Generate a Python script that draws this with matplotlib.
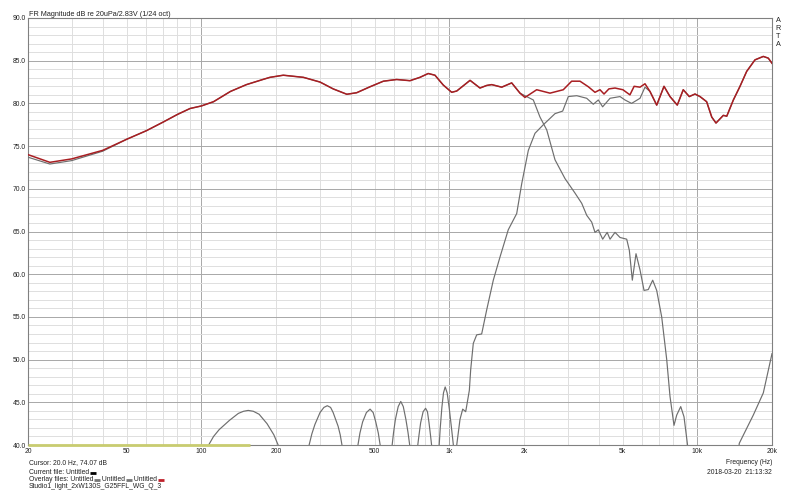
import numpy as np
import matplotlib
matplotlib.use('Agg')
import matplotlib.pyplot as plt
from matplotlib.lines import Line2D

plt.rcParams['font.family'] = ['Liberation Sans', 'DejaVu Sans']

# ---------------- data ----------------
sum_freq = [20, 24.5, 30, 40, 50, 60, 70, 80, 90, 100, 112, 131, 152, 177, 189, 214,
            258, 301, 340, 386, 423, 479, 542, 613, 694, 761, 822, 875, 945, 1022,
            1071, 1212, 1329, 1414, 1482, 1626, 1784, 1927, 2018, 2250, 2546, 2880,
            3113, 3364, 3634, 3866, 4050, 4204, 4400, 4656, 5010, 5348, 5560, 5873,
            6150, 6442, 6857, 7338, 7757, 8300, 8772, 9280, 9785, 10250, 10900,
            11430, 11890, 12730, 13140, 13970, 14860, 15810, 17080, 18450, 19320, 20000]
sum_db = [74.0, 73.1, 73.5, 74.5, 75.8, 76.8, 77.8, 78.7, 79.4, 79.7, 80.2, 81.4, 82.2, 82.8, 83.05, 83.3,
          83.05, 82.5, 81.7, 81.07, 81.25, 81.95, 82.6, 82.8, 82.66, 83.05, 83.5, 83.3, 82.15, 81.3,
          81.45, 82.7, 81.8, 82.1, 82.2, 81.9, 82.4, 81.2, 80.7, 81.6, 81.2, 81.6,
          82.6, 82.6, 81.95, 81.3, 81.6, 81.1, 81.7, 81.8, 81.6, 81.0, 82.0, 81.9,
          82.3, 81.4, 79.8, 82.0, 80.8, 79.8, 81.6, 80.8, 81.1, 80.8, 80.2,
          78.4, 77.7, 78.6, 78.5, 80.4, 82.0, 83.75, 85.1, 85.5, 85.3, 84.7]

woofer_low_freq = [20, 24.5, 30, 40]
woofer_low_db = [73.7, 72.9, 73.3, 74.4]

woofer_hf_freq = [2018, 2181, 2320, 2470, 2667, 2926, 3211, 3418, 3580, 3750, 3866, 3988,
                  4153, 4330, 4446, 4656, 4878, 5190, 5318, 5468, 5658, 5873, 6096, 6340,
                  6607, 6857, 7182, 7525, 7757, 8051, 8256, 8570, 8836, 9112, 9300,
                  np.nan, 14500, 14760, 16810, 18450, 20000]
woofer_hf_db = [80.9, 80.4, 78.4, 76.9, 73.4, 71.2, 69.5, 68.3, 66.9, 66.1, 64.9, 65.2,
                64.1, 64.9, 64.1, 64.9, 64.3, 64.1, 62.8, 59.3, 62.4, 60.5, 58.1, 58.2,
                59.3, 58.1, 55.0, 50.0, 45.7, 42.3, 43.5, 44.5, 43.3, 40.2, 38.0,
                np.nan, 38.0, 40.2, 43.5, 46.1, 50.7]

tweeter_freq = [107, 112, 118, 130, 141, 148, 154.5, 162, 171, 184, 196, 204, np.nan,
                272, 279, 287, 301, 312, 322, 332, 340, 356, 363, 369, np.nan,
                428, 436, 447, 463, 479, 493, 505, 517, 526, np.nan,
                588, 596, 606, 622, 637, 652, 668, 681, 692, np.nan,
                746, 754, 766, 784, 802, 816, 828, 839, 848, np.nan,
                910, 919, 933, 947, 962, 980, 1000, 1020, 1038, np.nan,
                1071, 1104, 1132, 1164, 1204, 1219, 1249, 1289, 1350, 1414, 1504, 1600,
                1728, 1869, 1958, 2082, 2215, 2393, 2667, 2864, 3018, 3264, 3580, 3806,
                3988, 4150, 4446, 4878, 5108, 5430, 5873, 6150, 6442]
tweeter_db = [40.0, 41.0, 41.8, 42.9, 43.7, 43.95, 44.05, 43.95, 43.6, 42.5, 41.2, 40.0, np.nan,
              40.0, 41.3, 42.4, 43.8, 44.4, 44.6, 44.4, 43.8, 42.2, 41.2, 40.0, np.nan,
              40.0, 41.4, 42.7, 43.8, 44.2, 43.8, 42.7, 41.4, 40.0, np.nan,
              40.0, 41.5, 43.0, 44.5, 45.1, 44.5, 43.0, 41.5, 40.0, np.nan,
              40.0, 41.1, 42.6, 43.9, 44.3, 43.9, 42.6, 41.2, 40.0, np.nan,
              40.0, 42.0, 44.4, 46.1, 46.8, 46.1, 44.2, 42.0, 40.0, np.nan,
              40.0, 43.0, 44.2, 43.9, 46.4, 48.8, 51.9, 52.9, 53.0, 55.8, 59.3, 62.0,
              65.2, 67.1, 70.6, 74.5, 76.5, 77.5, 78.8, 79.1, 80.8, 80.9, 80.6, 79.9,
              80.4, 79.6, 80.6, 80.8, 80.4, 80.0, 80.6, 81.9, 81.4]

floor_freq = [20, 157]
floor_db = [40, 40]

x_ticks = [20, 50, 100, 200, 500, 1000, 2000, 5000, 10000, 20000]
x_tick_labels = ['20', '50', '100', '200', '500', '1k', '2k', '5k', '10k', '20k']
y_ticks = [40, 45, 50, 55, 60, 65, 70, 75, 80, 85, 90]
y_tick_labels = ['%.1f' % v for v in y_ticks]

# ---------------- build derived series ----------------
sf = np.array(sum_freq, float)
sd = np.array(sum_db, float)
m_w = (sf >= 50) & (sf <= 1927)
woofer_f = np.concatenate([woofer_low_freq, sf[m_w], woofer_hf_freq])
woofer_d = np.concatenate([woofer_low_db, sd[m_w], woofer_hf_db])
m_t = sf >= 6857
tw_f = np.concatenate([tweeter_freq, sf[m_t]])
tw_d = np.concatenate([tweeter_db, sd[m_t]])

# ---------------- figure ----------------
W, H = 800, 492
fig = plt.figure(figsize=(W / 100, H / 100), dpi=100)
fig.patch.set_facecolor('white')
ax = fig.add_axes([28 / W, 1 - 445 / H, 744 / W, 427 / H])
ax.set_xscale('log')
ax.set_xlim(20, 20000)
ax.set_ylim(40, 90)

FS = 4.9
light = '#dedede'
dark = '#a8a8a8'
for dec in [10, 100, 1000, 10000]:
    for k in range(1, 10):
        f = dec * k
        if f < 20 or f > 20000:
            continue
        major = k == 1 and dec in (100, 1000, 10000)
        ax.axvline(f, color=dark if major else light, lw=0.7, zorder=0)
for v in range(40, 91):
    ax.axhline(v, color=dark if v % 5 == 0 else light, lw=0.7, zorder=0)

ax.set_xticks(x_ticks)
ax.set_xticklabels(x_tick_labels)
ax.set_xticks([], minor=True)
ax.set_yticks(y_ticks)
ax.set_yticklabels(y_tick_labels)
ax.tick_params(axis='both', length=0, labelsize=FS, colors='#222222')
ax.tick_params(axis='x', pad=2.5)
ax.tick_params(axis='y', pad=1.5)
for s in ax.spines.values():
    s.set_color('#808080')
    s.set_linewidth(0.8)

gray = '#6e6e6e'
ax.plot(floor_freq, floor_db, color='#c8cc70', lw=2.0, zorder=5, clip_on=False,
        solid_capstyle='butt')
ax.plot(woofer_f, woofer_d, color=gray, lw=0.85, zorder=3)
ax.plot(tw_f, tw_d, color=gray, lw=0.85, zorder=3)
ax.plot(sf, sd, color='#a81e22', lw=1.1, zorder=4)

# ---------------- texts ----------------
def P(x, y):
    return x / W, 1 - y / H

tc = '#222222'
fig.text(*P(29, 14), 'FR Magnitude dB re 20uPa/2.83V (1/24 oct)', fontsize=FS + 0.3,
         va='center', ha='left', color=tc)
for i, ch in enumerate('ARTA'):
    fig.text(*P(778, 21 + i * 7.8), ch, fontsize=FS + 0.3, va='center', ha='center', color=tc)

fig.text(*P(772, 463), 'Frequency (Hz)', fontsize=FS, va='center', ha='right', color=tc)
fig.text(*P(772, 472.5), '2018-03-20  21:13:32', fontsize=FS, va='center', ha='right', color=tc)

fig.text(*P(29, 463), 'Cursor: 20.0 Hz, 74.07 dB', fontsize=FS, va='center', ha='left', color=tc)

renderer = fig.canvas.get_renderer()

def line_with_dashes(x0, y, pieces):
    x = x0
    for txt, col in pieces:
        t = fig.text(*P(x, y), txt, fontsize=FS, va='center', ha='left', color=tc)
        bb = t.get_window_extent(renderer=renderer)
        x += bb.width
        if col is not None:
            x1, yy = P(x + 0.5, y + 0.8)
            x2, _ = P(x + 6.5, y + 0.8)
            fig.add_artist(Line2D([x1, x2], [yy, yy], transform=fig.transFigure,
                                  color=col, lw=2.0, solid_capstyle='butt'))
            x += 7.0

line_with_dashes(29, 472.5, [('Current file: Untitled', 'black')])
line_with_dashes(29, 479.5, [('Overlay files: Untitled', '#777777'), (' Untitled', '#777777'),
                             (' Untitled', '#c0202a')])
fig.text(*P(29, 486.5), 'Studio1_light_2xW130S_G25FFL_WG_Q_3', fontsize=FS,
         va='center', ha='left', color=tc)

fig.savefig('out.png', dpi=100, facecolor='white')
